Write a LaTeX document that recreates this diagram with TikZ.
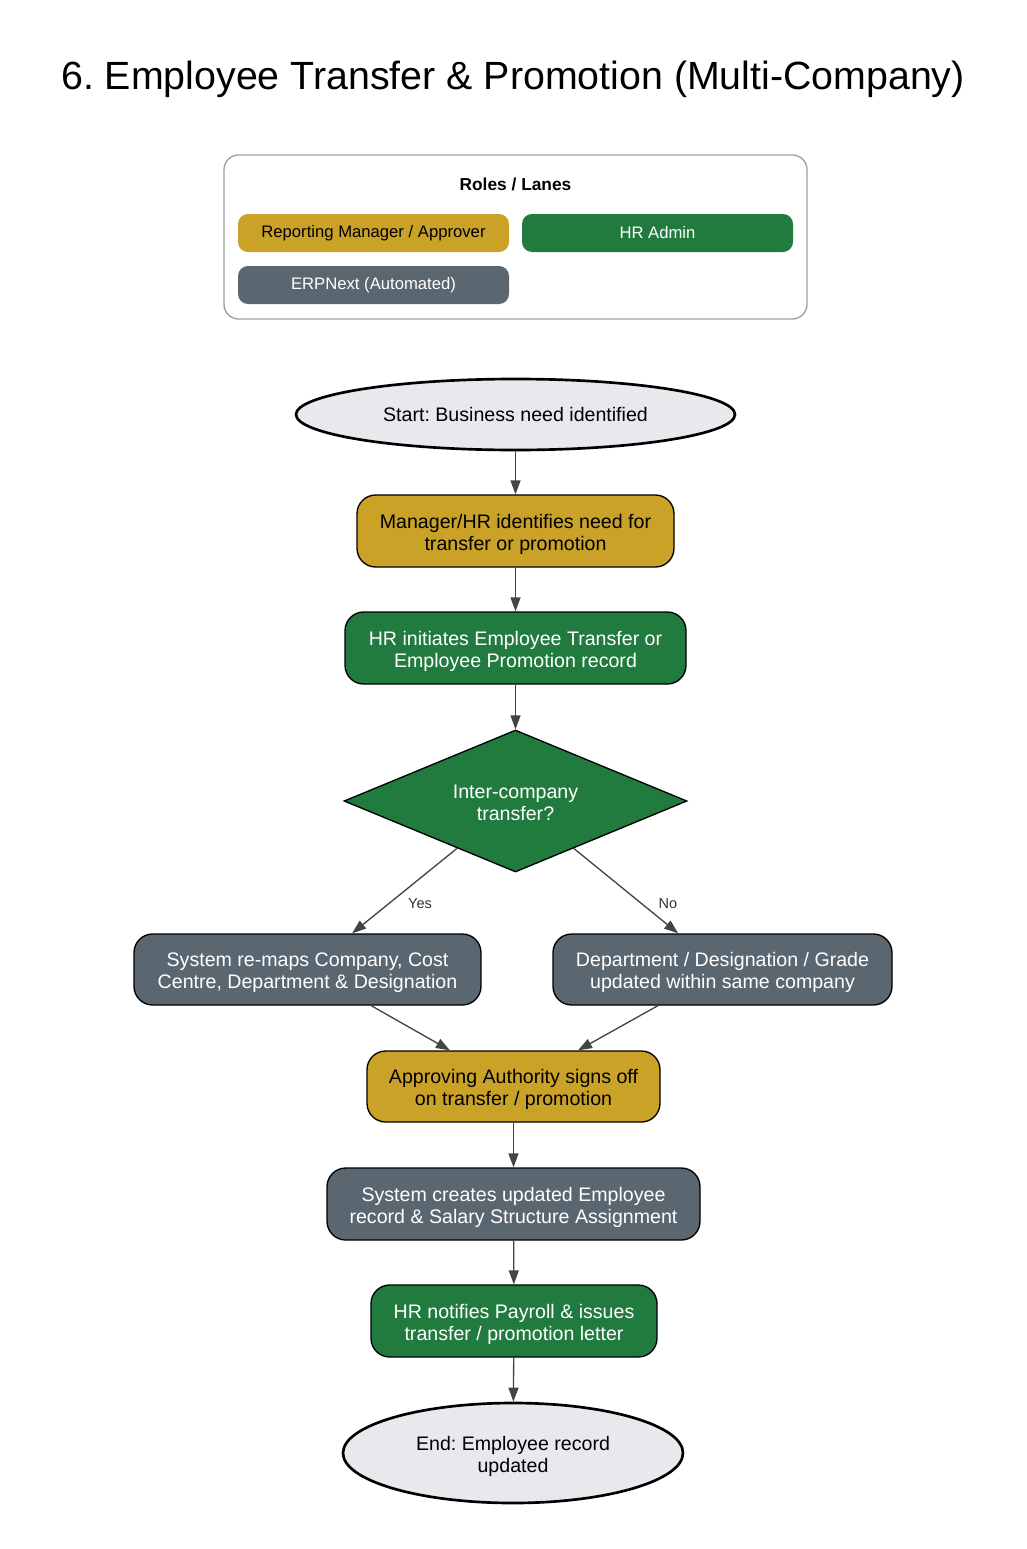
\documentclass[tikz,border=0pt]{standalone}
\usepackage{fontspec}
\setmainfont{Liberation Sans}
\usetikzlibrary{shapes.geometric,arrows.meta}
\definecolor{gold}{HTML}{C9A227}
\definecolor{hrgreen}{HTML}{217A3E}
\definecolor{sysgray}{HTML}{5A6670}
\definecolor{termfill}{HTML}{E8E9EC}
\definecolor{edgecol}{HTML}{444444}
\definecolor{legborder}{HTML}{A0A0A0}
\newcommand{\twolines}[2]{\rule{0pt}{15.5pt}#1\\#2\rule[-3.5pt]{0pt}{0pt}}
\tikzset{
  nodefont/.style={font=\fontsize{14.7}{16.5}\selectfont},
  procbox/.style={rectangle, rounded corners=14pt, draw=black, line width=1pt, align=center, inner sep=0pt, nodefont},
  mgr/.style={procbox, fill=gold, text=black},
  hr/.style={procbox, fill=hrgreen, text=white},
  sys/.style={procbox, fill=sysgray, text=white},
  term/.style={ellipse, draw=black, line width=2pt, fill=termfill, align=center, inner sep=0pt, nodefont},
  decision/.style={diamond, aspect=2.4, draw=black, line width=1pt, fill=hrgreen, text=white, align=center, inner sep=0pt, nodefont},
  legitem/.style={rectangle, rounded corners=7.5pt, minimum width=203.25pt, minimum height=28.5pt, inner sep=0pt, font=\fontsize{12.5}{14}\selectfont},
  flow/.style={draw=edgecol, line width=1pt, -{Triangle[length=10.5pt,width=7.5pt]}},
  elabel/.style={text=black!80, font=\fontsize{10.9}{12}\selectfont},
}
\begin{document}
\frenchspacing
\begin{tikzpicture}[x=0.75pt,y=-0.75pt]
\useasboundingbox[fill=white] (0,0) rectangle (1027,1549);

\node (title) at (513,79) {\fontsize{29.5}{33}\selectfont 6. Employee Transfer \& Promotion (Multi-Company)};

% legend
\node[draw=legborder, line width=1pt, rounded corners=11pt, minimum width=437.25pt, minimum height=123pt, inner sep=0pt] (legend) at (515.5,237) {};
\node[font=\bfseries\fontsize{13}{15}\selectfont] (legtitle) at (515.5,184) {Roles / Lanes};
\node[legitem, fill=gold, text=black] (lg1) at (373.5,233) {Reporting Manager / Approver};
\node[legitem, fill=hrgreen, text=white] (lg2) at (657.5,233) {HR Admin};
\node[legitem, fill=sysgray, text=white] (lg3) at (373.5,285) {ERPNext (Automated)};

% flow nodes
\node[term, minimum width=329.25pt, minimum height=53.25pt] (start) at (515.5,414.5) {Start: Business need identified};
\node[mgr, minimum width=237.75pt, minimum height=54pt] (b1) at (515.5,531) {\twolines{Manager/HR identifies need for}{transfer or promotion}};
\node[hr, minimum width=255.75pt, minimum height=54pt] (b2) at (515.5,648) {\twolines{HR initiates Employee Transfer or}{Employee Promotion record}};
\node[decision, minimum width=257.25pt, minimum height=106.5pt] (dec) at (515.5,801) {\twolines{Inter-company}{transfer?}};
\node[sys, minimum width=260.25pt, minimum height=53.25pt] (yes) at (307.5,969.5) {\twolines{System re-maps Company, Cost}{Centre, Department \& Designation}};
\node[sys, minimum width=254.25pt, minimum height=53.25pt] (no) at (722.5,969.5) {\twolines{Department / Designation / Grade}{updated within same company}};
\node[mgr, minimum width=219.75pt, minimum height=53.25pt] (appr) at (513.5,1086.5) {\twolines{Approving Authority signs off}{on transfer / promotion}};
\node[sys, minimum width=279.75pt, minimum height=54pt] (sysrec) at (513.5,1204) {\twolines{System creates updated Employee}{record \& Salary Structure Assignment}};
\node[hr, minimum width=214.5pt, minimum height=54pt] (hrn) at (514,1321) {\twolines{HR notifies Payroll \& issues}{transfer / promotion letter}};
\node[term, minimum width=255pt, minimum height=75pt] (end) at (513,1453) {\twolines{End: Employee record}{updated}};

% connectors
\draw[flow] (start) -- (b1);
\draw[flow] (b1) -- (b2);
\draw[flow] (b2) -- (dec);
\draw[flow] (dec) -- (yes);
\draw[flow] (dec) -- (no);
\draw[flow] (yes) -- (appr);
\draw[flow] (no) -- (appr);
\draw[flow] (appr) -- (sysrec);
\draw[flow] (sysrec) -- (hrn);
\draw[flow] (hrn) -- (end);

\node[elabel] (lyes) at (420,904) {Yes};
\node[elabel] (lno) at (668,904) {No};
\end{tikzpicture}
\end{document}
